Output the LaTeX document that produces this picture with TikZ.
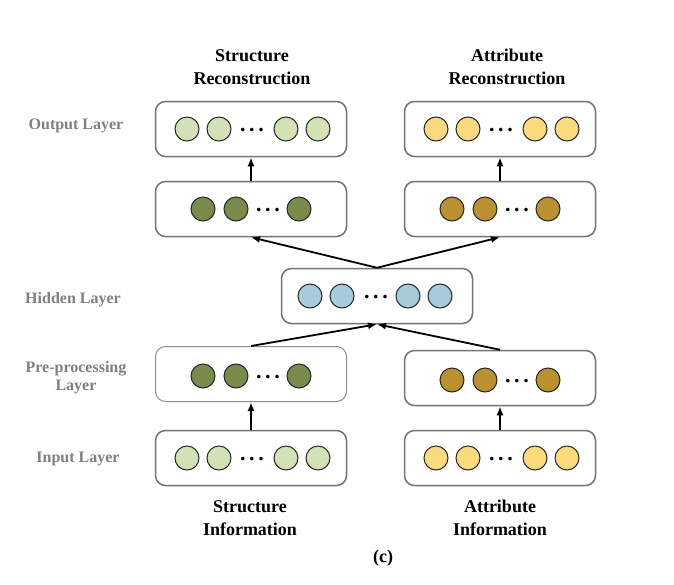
\documentclass[tikz,border=0pt]{standalone}
\usepackage{fontspec}
\usetikzlibrary{arrows.meta}
\setmainfont{Liberation Serif}
\begin{document}
\begin{tikzpicture}[x=1pt,y=-1pt,
  box/.style={draw=black!55,line width=1.5pt,rounded corners=10pt,minimum width=191pt,minimum height=55pt,inner sep=0},
  c/.style={circle,draw=black!85,line width=1pt,minimum size=24pt,inner sep=0},
  lg/.style={c,fill=lgreen}, dg/.style={c,fill=dgreen}, yl/.style={c,fill=yel},
  br/.style={c,fill=brn}, bl/.style={c,fill=lblue},
  dts/.style={font=\bfseries\fontsize{22}{22}\selectfont,inner sep=0},
  arr/.style={-{Latex[length=9pt,width=7pt]},line width=1.8pt},
  side/.style={text=black!50,font=\bfseries\fontsize{16}{18}\selectfont,align=center},
  ttl/.style={font=\bfseries\fontsize{18}{23}\selectfont,align=center}]
\definecolor{lgreen}{HTML}{D3E2B6}
\definecolor{dgreen}{HTML}{7A8A4A}
\definecolor{yel}{HTML}{FADA7C}
\definecolor{brn}{HTML}{BA9030}
\definecolor{lblue}{HTML}{A7CCD9}
\useasboundingbox (0,0) rectangle (674,584);
\node[box] (oL) at (251,129) {};
\node[box] (oR) at (500,129) {};
\node[box] (sL) at (251,209) {};
\node[box] (sR) at (500,209) {};
\node[box] (h) at (377,296) {};
\node[box,draw=black!45,line width=1pt] (pL) at (251,374) {};
\node[box] (pR) at (500,378) {};
\node[box] (iL) at (251,458) {};
\node[box] (iR) at (500,458) {};
\foreach \b/\s/\y/\cx in {oL/lg/129/251, oR/yl/129/500, iL/lg/458/251, iR/yl/458/500}{
  \node[\s] (\b1) at (\cx-64,\y) {};
  \node[\s] (\b2) at (\cx-32,\y) {};
  \node[dts] (\b d) at (\cx+1,\y+1) {.\,.\,.};
  \node[\s] (\b3) at (\cx+35,\y) {};
  \node[\s] (\b4) at (\cx+67,\y) {};
}
\node[bl] (h1) at (310,296) {};
\node[bl] (h2) at (342,296) {};
\node[dts] (hd) at (376,297) {.\,.\,.};
\node[bl] (h3) at (408,296) {};
\node[bl] (h4) at (440,296) {};
\foreach \b/\s/\y/\cx in {sL/dg/209/251, sR/br/209/500, pL/dg/376/251, pR/br/380/500}{
  \node[\s] (\b1) at (\cx-48,\y) {};
  \node[\s] (\b2) at (\cx-15,\y) {};
  \node[dts] (\b d) at (\cx+17,\y+1) {.\,.\,.};
  \node[\s] (\b3) at (\cx+48,\y) {};
}
\draw[arr] (sL.north) -- (oL.south);
\draw[arr] (sR.north) -- (oR.south);
\draw[arr] (h.north) -- (sL.south);
\draw[arr] (h.north) -- (sR.south);
\draw[arr] (pL.north) -- (h.south);
\draw[arr] (pR.north) -- (h.south);
\draw[arr] (iL.north) -- (pL.south);
\draw[arr] (iR.north) -- (pR.south);
\node[side] (l1) at (76,126) {Output Layer};
\node[side] (l2) at (73,300) {Hidden Layer};
\node[side] (l3) at (76,378) {Pre-processing\\Layer};
\node[side] (l4) at (78,459) {Input Layer};
\node[ttl] (t1) at (252,67) {Structure\\Reconstruction};
\node[ttl] (t2) at (507,67) {Attribute\\Reconstruction};
\node[ttl] (t3) at (250,518) {Structure\\Information};
\node[ttl] (t4) at (500,518) {Attribute\\Information};
\node[ttl] (t5) at (383,558) {(c)};
\end{tikzpicture}
\end{document}
